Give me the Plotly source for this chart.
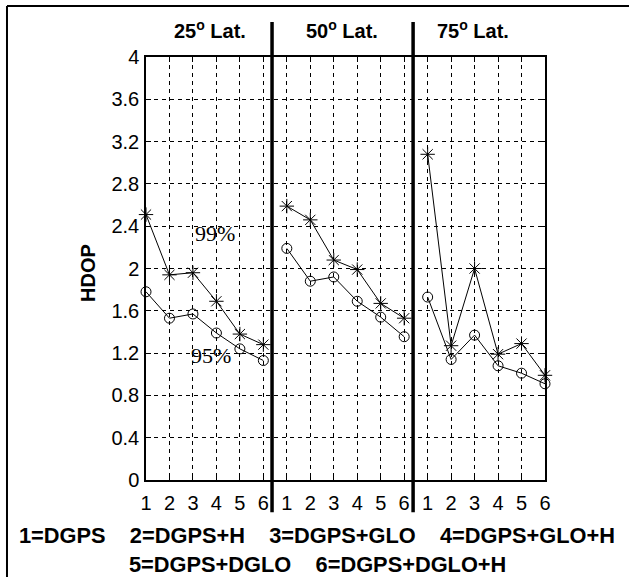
import plotly.graph_objects as go

# ---- data ----
positions = [1, 2, 3, 4, 5, 6]
lat_labels = ["25<sup>o</sup> Lat.", "50<sup>o</sup> Lat.", "75<sup>o</sup> Lat."]
hdop99_25 = [2.51, 1.94, 1.96, 1.69, 1.38, 1.28]
hdop95_25 = [1.78, 1.53, 1.57, 1.39, 1.24, 1.13]
hdop99_50 = [2.59, 2.46, 2.08, 1.99, 1.67, 1.53]
hdop95_50 = [2.19, 1.88, 1.92, 1.69, 1.54, 1.355]
hdop99_75 = [3.08, 1.27, 2.00, 1.19, 1.29, 0.99]
hdop95_75 = [1.73, 1.14, 1.37, 1.08, 1.01, 0.91]
y_ticks = [0, 0.4, 0.8, 1.2, 1.6, 2.0, 2.4, 2.8, 3.2, 3.6, 4.0]
y_tick_labels = ["0", "0.4", "0.8", "1.2", "1.6", "2", "2.4", "2.8", "3.2", "3.6", "4"]
legend_line1 = ["1=DGPS", "2=DGPS+H", "3=DGPS+GLO", "4=DGPS+GLO+H"]
legend_line2 = ["5=DGPS+DGLO", "6=DGPS+DGLO+H"]

series99 = [hdop99_25, hdop99_50, hdop99_75]
series95 = [hdop95_25, hdop95_50, hdop95_75]

SANS = "Liberation Sans, Arial, sans-serif"
SERIF = "Liberation Serif, Times New Roman, serif"

fig = go.Figure()
all_x = []
for g in range(3):
    xs = [p + 6 * g for p in positions]
    all_x += xs
    fig.add_trace(go.Scatter(
        x=xs, y=series99[g], mode="lines+markers",
        line=dict(color="black", width=1),
        marker=dict(symbol="asterisk-open", size=12, color="black",
                    line=dict(color="black", width=1)),
        cliponaxis=False, showlegend=False))
    fig.add_trace(go.Scatter(
        x=xs, y=series95[g], mode="lines+markers",
        line=dict(color="black", width=1),
        marker=dict(symbol="circle-open", size=10, color="black",
                    line=dict(color="black", width=1)),
        cliponaxis=False, showlegend=False))

fig.update_layout(
    width=629, height=577,
    margin=dict(l=146, r=84, t=57, b=97),
    paper_bgcolor="white", plot_bgcolor="white",
    font=dict(family=SANS, color="black", size=20),
)
fig.update_xaxes(
    range=[1, 18], tickvals=all_x, ticktext=[str(p) for p in positions] * 3,
    showgrid=True, gridcolor="black", gridwidth=1, griddash="4px,4px",
    showline=True, linecolor="black", linewidth=1.5, mirror="allticks",
    ticks="inside", ticklen=5, tickcolor="black",
    tickfont=dict(family=SANS, size=20), ticklabelstandoff=4,
    zeroline=False,
)
fig.update_yaxes(
    range=[0, 4], tickvals=y_ticks, ticktext=y_tick_labels,
    showgrid=True, gridcolor="black", gridwidth=1, griddash="4px,4px",
    showline=True, linecolor="black", linewidth=1.5, mirror="allticks",
    ticks="inside", ticklen=5, tickcolor="black",
    tickfont=dict(family=SANS, size=20), ticklabelstandoff=1,
    zeroline=False,
)

# separators between latitude groups
for xs in [6.37, 12.38]:
    fig.add_shape(type="line", xref="x", yref="paper", x0=xs, x1=xs,
                  y0=-0.076, y1=1.083, line=dict(color="black", width=3.5))

# outer frame (top and left)
fig.add_shape(type="line", xref="paper", yref="paper", x0=-0.3484, x1=1.22,
              y0=1.1206, y1=1.1206, line=dict(color="black", width=2))
fig.add_shape(type="line", xref="paper", yref="paper", x0=-0.3484, x1=-0.3484,
              y0=1.1206, y1=-0.25, line=dict(color="black", width=2))

# latitude titles
for xc, lab in zip([3.73, 9.35, 14.93], lat_labels):
    fig.add_annotation(x=xc, y=1.064, xref="x", yref="paper", text="<b>%s</b>" % lab,
                       showarrow=False, font=dict(family=SANS, size=20),
                       xanchor="center", yanchor="middle")

# percentile labels
fig.add_annotation(x=3.95, y=2.33, xref="x", yref="y", text="99%", showarrow=False,
                   font=dict(family=SERIF, size=22), xanchor="center", yanchor="middle")
fig.add_annotation(x=3.75, y=1.18, xref="x", yref="y", text="95%", showarrow=False,
                   font=dict(family=SERIF, size=22), xanchor="center", yanchor="middle")

# y axis title
fig.add_annotation(x=-0.145, y=0.49, xref="paper", yref="paper", text="<b>HDOP</b>",
                   textangle=-90, showarrow=False, font=dict(family=SANS, size=20),
                   xanchor="center", yanchor="middle")

gap = "\u00a0" * 4
fig.add_annotation(x=0.4286, y=(480 - 535) / 423, xref="paper", yref="paper",
                   text="<b>" + gap.join(legend_line1) + "</b>", showarrow=False,
                   font=dict(family=SANS, size=21.8), xanchor="center", yanchor="middle")
fig.add_annotation(x=0.4286, y=(480 - 564) / 423, xref="paper", yref="paper",
                   text="<b>" + gap.join(legend_line2) + "</b>", showarrow=False,
                   font=dict(family=SANS, size=21.8), xanchor="center", yanchor="middle")

fig.write_html("out.html", config={"displayModeBar": False},
               post_script="document.body.style.margin='0';document.body.style.overflow='hidden';")
